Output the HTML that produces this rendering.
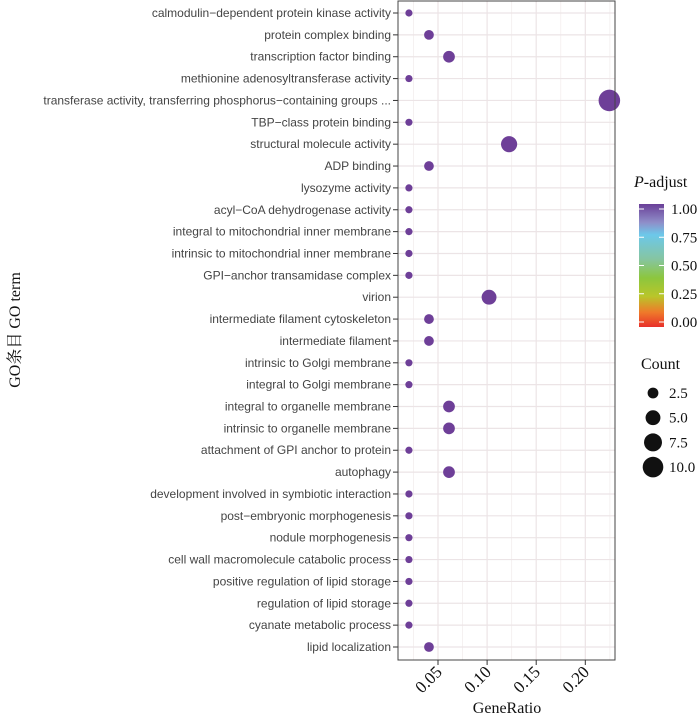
<!DOCTYPE html>
<html><head><meta charset="utf-8"><style>
body{margin:0;background:#fff;}
svg{display:block;}
</style></head><body>
<svg id="chart" width="700" height="716" xmlns="http://www.w3.org/2000/svg">
<defs>
<linearGradient id="grad" x1="0" y1="1" x2="0" y2="0">
<stop offset="0" stop-color="#e8302a"/>
<stop offset="0.12" stop-color="#ef7a2a"/>
<stop offset="0.25" stop-color="#b9c62a"/>
<stop offset="0.4" stop-color="#8cc63e"/>
<stop offset="0.55" stop-color="#86c5a0"/>
<stop offset="0.75" stop-color="#6cc8ea"/>
<stop offset="0.85" stop-color="#8f8ec9"/>
<stop offset="1" stop-color="#6a3f98"/>
</linearGradient>
</defs>
<g id="plot"></g>
</svg>
<script>
const terms=["calmodulin\u2212dependent protein kinase activity","protein complex binding","transcription factor binding","methionine adenosyltransferase activity","transferase activity, transferring phosphorus\u2212containing groups ...","TBP\u2212class protein binding","structural molecule activity","ADP binding","lysozyme activity","acyl\u2212CoA dehydrogenase activity","integral to mitochondrial inner membrane","intrinsic to mitochondrial inner membrane","GPI\u2212anchor transamidase complex","virion","intermediate filament cytoskeleton","intermediate filament","intrinsic to Golgi membrane","integral to Golgi membrane","integral to organelle membrane","intrinsic to organelle membrane","attachment of GPI anchor to protein","autophagy","development involved in symbiotic interaction","post\u2212embryonic morphogenesis","nodule morphogenesis","cell wall macromolecule catabolic process","positive regulation of lipid storage","regulation of lipid storage","cyanate metabolic process","lipid localization"];
const counts=[1,2,3,1,11,1,6,2,1,1,1,1,1,5,2,2,1,1,3,3,1,3,1,1,1,1,1,1,1,2];
const ratios=[0.0204,0.0408,0.0612,0.0204,0.2245,0.0204,0.1224,0.0408,0.0204,0.0204,0.0204,0.0204,0.0204,0.102,0.0408,0.0408,0.0204,0.0204,0.0612,0.0612,0.0204,0.0612,0.0204,0.0204,0.0204,0.0204,0.0204,0.0204,0.0204,0.0408];
const xTicks=[0.05,0.10,0.15,0.20];
const xTickLabels=["0.05","0.10","0.15","0.20"];
const cbTicks=[0,0.25,0.5,0.75,1];
const sizeLegend=[2.5,5.0,7.5,10.0];

const NS="http://www.w3.org/2000/svg";
const g=document.getElementById('plot');
function mk(tag,attrs,parent){const e=document.createElementNS(NS,tag);for(const k in attrs)e.setAttribute(k,attrs[k]);(parent||g).appendChild(e);return e;}
const L=398,R=615,T=1,B=660;
const xs=v=>438+(v-0.05)*982;
const ys=i=>13+i*(647-13)/(terms.length-1);
const rs=c=>0.5+Math.sqrt(c)*3.1;

for(let k=0;k<xTicks.length+1;k++){const v=0.025+k*0.05;const x=xs(v);if(x>L&&x<R){const l=mk('line',{x1:x,x2:x,y1:T,y2:B,stroke:'#f3eeee','stroke-width':0.8});}}
xTicks.forEach(v=>{const l=mk('line',{x1:xs(v),x2:xs(v),y1:T,y2:B,stroke:'#ece4e6','stroke-width':1.2});});
terms.forEach((t,i)=>{const l=mk('line',{x1:L,x2:R,y1:ys(i),y2:ys(i),stroke:'#ece4e6','stroke-width':1.2});});

terms.forEach((t,i)=>{
 const c=mk('circle',{cx:xs(ratios[i]),cy:ys(i),r:rs(counts[i]),fill:'#6e3f98'});
 
 
 const tk=mk('line',{x1:L-5,x2:L,y1:ys(i),y2:ys(i),stroke:'#333','stroke-width':1});
 
 
 const tx=mk('text',{x:L-7,y:ys(i)+4,'text-anchor':'end','font-family':'Liberation Sans, sans-serif','font-size':12,fill:'#444'});
 tx.textContent=t;
 
 
});
const fr=mk('rect',{x:L,y:T,width:R-L,height:B-T,fill:'none',stroke:'#444','stroke-width':1});



xTicks.forEach((v,k)=>{
 const x=xs(v);
 const tk=mk('line',{x1:x,x2:x,y1:B,y2:B+5,stroke:'#333','stroke-width':1});
 
 
 const tx=mk('text',{x:x+5,y:B+13,'text-anchor':'end','font-family':'Liberation Serif, serif','font-size':17,fill:'#111',transform:`rotate(-45 ${x+5} ${B+13})`});
 tx.textContent=xTickLabels[k];
 
 
});
const xt=mk('text',{x:507,y:713,'text-anchor':'middle','font-family':'Liberation Serif, serif','font-size':16,fill:'#111'});
xt.textContent='GeneRatio';


const yt=mk('text',{x:0,y:0,'text-anchor':'middle','font-family':'Liberation Serif, Noto Serif CJK SC, serif','font-size':16,fill:'#111',transform:'translate(20 330) rotate(-90)'});
yt.textContent='GO条目 GO term';



const ct=mk('text',{x:634,y:187,'font-family':'Liberation Serif, serif','font-size':16,fill:'#111'});
ct.innerHTML='<tspan font-style="italic">P</tspan>-adjust';


const cb=mk('rect',{x:639,y:204,width:25,height:123,fill:'url(#grad)'});


const cy=v=>322-v*113;
cbTicks.forEach(v=>{
 const y=cy(v);
 const a=mk('line',{x1:639,x2:644,y1:y,y2:y,stroke:'#fff','stroke-width':1});
 
 
 const b=mk('line',{x1:659,x2:664,y1:y,y2:y,stroke:'#fff','stroke-width':1});
 
 
 const t=mk('text',{x:671,y:y+5,'font-family':'Liberation Serif, serif','font-size':15,fill:'#111'});
 t.textContent=v.toFixed(2);
 
 
});
const st=mk('text',{x:641,y:369,'font-family':'Liberation Serif, serif','font-size':16,fill:'#111'});
st.textContent='Count';


sizeLegend.forEach((v,k)=>{
 const y=393+k*24.7;
 const c=mk('circle',{cx:653,cy:y,r:rs(v),fill:'#111'});
 
 
 const t=mk('text',{x:669,y:y+5,'font-family':'Liberation Serif, serif','font-size':15,fill:'#111'});
 t.textContent=v.toFixed(1);
 
 
});
</script>
</body></html>
